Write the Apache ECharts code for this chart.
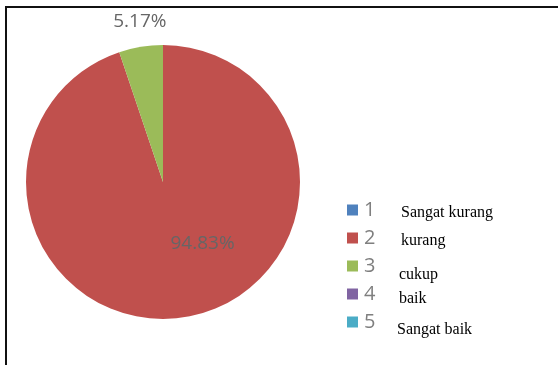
<!DOCTYPE html>
<html>
<head>
<meta charset="utf-8">
<script src="https://cdn.jsdelivr.net/npm/echarts@6/dist/echarts.min.js"></script>
<style>
  html, body { margin: 0; padding: 0; background: #fff; }
  #chart { width: 558px; height: 365px; }
</style>
</head>
<body>
<div id="chart"></div>
<script>
// Rating categories and their share of responses (percent)
const categories = ['1', '2', '3', '4', '5'];
const descriptions = ['Sangat kurang', 'kurang', 'cukup', 'baik', 'Sangat baik'];
const shares = [0, 94.83, 5.17, 0, 0];
const colors = ['#4F81BD', '#C0504D', '#9BBB59', '#8064A2', '#4BACC6'];

// Baselines and left edges for the description column beside the legend
const descLeft = [401, 401, 399, 399, 397];
const descBaseline = [217, 245, 279, 303, 334];

const chart = echarts.init(document.getElementById('chart'), null, { renderer: 'canvas' });

const pieData = categories.map((c, i) => {
  const item = { name: c, value: shares[i], itemStyle: { color: colors[i] } };
  if (shares[i] > 0) {
    item.label = { show: true, position: shares[i] > 50 ? 'inside' : 'outside' };
  }
  return item;
});

const graphics = [
  // frame: top and left edges visible
  {
    type: 'rect', silent: true,
    shape: { x: 6, y: 7, width: 700, height: 500 },
    style: { fill: 'none', stroke: '#111', lineWidth: 2 }
  }
].concat(descriptions.map((d, i) => ({
  type: 'text', silent: true,
  x: descLeft[i], y: descBaseline[i] + 4,
  style: {
    text: d, fill: '#000',
    font: '16px "Liberation Serif", "Times New Roman", serif',
    textAlign: 'left', textVerticalAlign: 'bottom'
  }
})));

chart.setOption({
  animation: false,
  backgroundColor: '#fff',
  legend: {
    orient: 'vertical',
    left: 342,
    top: 195,
    data: categories,
    icon: 'rect',
    itemWidth: 11,
    itemHeight: 11,
    itemGap: 8,
    selectedMode: false,
    textStyle: {
      color: '#7f7f7f',
      fontFamily: '"Open Sans", sans-serif',
      fontSize: 20,
      lineHeight: 20,
      padding: [0, 0, 0, 1]
    }
  },
  graphic: graphics,
  series: [{
    type: 'pie',
    center: [163, 182],
    radius: 137,
    startAngle: 90,
    clockwise: true,
    minAngle: 0,
    avoidLabelOverlap: false,
    itemStyle: { borderWidth: 0 },
    label: {
      show: false,
      formatter: p => p.value.toFixed(2) + '%',
      color: '#666',
      fontFamily: '"Open Sans", sans-serif',
      fontSize: 19
    },
    labelLine: { show: false, length: 6, length2: 0 },
    labelLayout: params => {
      if (params.dataIndex === 1) return { dx: 28, dy: -9 };
      if (params.dataIndex === 2) return { align: 'center', dx: 5, dy: -19 };
      return {};
    },
    emphasis: { disabled: true },
    data: pieData
  }]
});
</script>
</body>
</html>
